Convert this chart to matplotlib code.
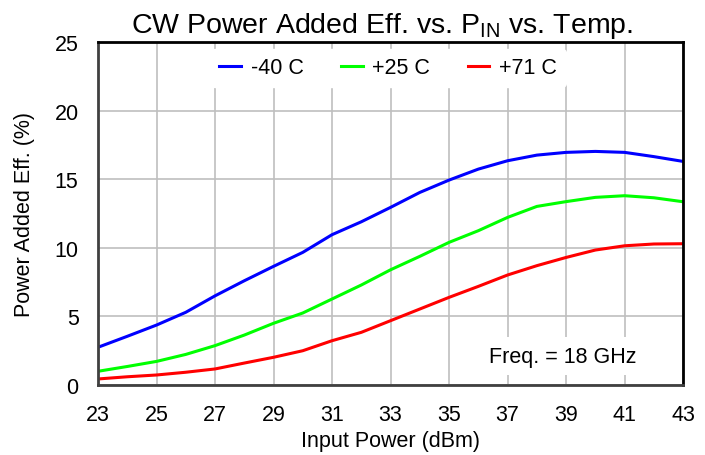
import numpy as np
import matplotlib
matplotlib.use('Agg')
import matplotlib.pyplot as plt

plt.rcParams['font.family'] = ['Liberation Sans', 'DejaVu Sans']
plt.rcParams['mathtext.fontset'] = 'custom'
plt.rcParams['mathtext.rm'] = 'Liberation Sans'

# input power (dBm)
pin = [23, 24, 25, 26, 27, 28, 29, 30, 31, 32, 33, 34, 35, 36, 37, 38, 39, 40, 41, 42, 43]

# power added efficiency (%)
pae_m40 = [2.75, 3.55, 4.37, 5.3, 6.5, 7.6, 8.65, 9.67, 10.96, 11.9, 12.95, 14.04,
           14.94, 15.74, 16.35, 16.76, 16.96, 17.03, 16.96, 16.65, 16.3]
pae_p25 = [1.0, 1.35, 1.72, 2.23, 2.87, 3.64, 4.5, 5.25, 6.27, 7.29, 8.4, 9.38,
           10.4, 11.25, 12.22, 13.02, 13.37, 13.68, 13.8, 13.65, 13.36]
pae_p71 = [0.44, 0.6, 0.73, 0.93, 1.17, 1.6, 2.02, 2.5, 3.23, 3.84, 4.69, 5.54,
           6.39, 7.19, 8.02, 8.7, 9.3, 9.84, 10.15, 10.28, 10.3]

labels = ['-40 C', '+25 C', '+71 C']
colors = ['#0000ff', '#00ff00', '#ff0000']

fig = plt.figure(figsize=(7.05, 4.56), dpi=100)
ax = fig.add_axes([0.139, 0.1535, 0.830, 0.752])

for y, lab, col in zip([pae_m40, pae_p25, pae_p71], labels, colors):
    ax.plot(pin, y, color=col, linewidth=2.2, label=lab)

ax.set_xlim(23, 43)
ax.set_ylim(0, 25)
ax.set_xticks(range(23, 44, 2))
ax.set_yticks(range(0, 26, 5))
ax.grid(True, color='#bfbfbf', linewidth=1.2)
ax.tick_params(length=0, labelsize=15.5)
ax.tick_params(axis='x', pad=14)
ax.tick_params(axis='y', pad=14)
for s in ax.spines.values():
    s.set_linewidth(2)
    s.set_color('#404040')
ax.spines['right'].set_color('black')
ax.spines['top'].set_color('black')

ax.set_xlabel('Input Power (dBm)', fontsize=15.5, labelpad=3)
ax.set_ylabel('Power Added Eff. (%)', fontsize=15.5, labelpad=14)
ax.set_title(r'CW Power Added Eff. vs. P$_\mathregular{IN}$ vs. Temp.', fontsize=20.5, pad=7,
             x=0.485)

leg = ax.legend(loc='upper center', ncol=3, frameon=True, fontsize=15.5,
                handlelength=1.0, columnspacing=1.75, handletextpad=0.45,
                bbox_to_anchor=(0.496, 1.0), borderaxespad=0.3)
leg.get_frame().set_facecolor('white')
leg.get_frame().set_edgecolor('white')
leg.get_frame().set_alpha(1)

ax.text(38.9, 2.1, 'Freq. = 18 GHz', fontsize=15.5, ha='center', va='center',
        bbox=dict(facecolor='white', edgecolor='none', pad=6))

fig.savefig('out.png', dpi=100)
